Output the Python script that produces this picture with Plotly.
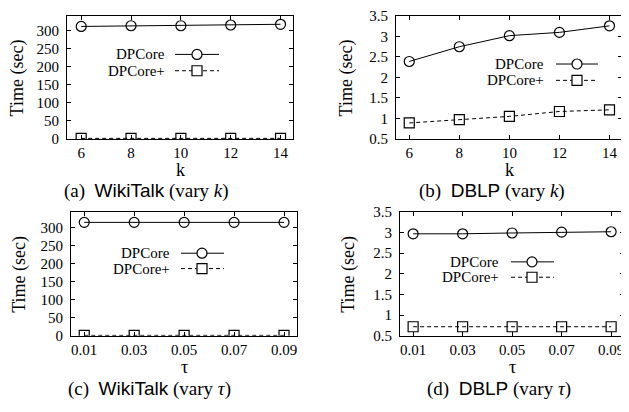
import plotly.graph_objects as go

# ---------------- data ----------------
k_vals = [6, 8, 10, 12, 14]
tau_vals = [0.01, 0.03, 0.05, 0.07, 0.09]
tau_labels = ["0.01", "0.03", "0.05", "0.07", "0.09"]

wiki_k_dpcore = [312, 314, 314, 316, 318]
wiki_k_dpcoreplus = [1.5, 1.5, 1.5, 1.5, 1.5]
dblp_k_dpcore = [2.39, 2.75, 3.02, 3.10, 3.26]
dblp_k_dpcoreplus = [0.89, 0.97, 1.05, 1.17, 1.21]
wiki_tau_dpcore = [315, 315, 315, 315, 315]
wiki_tau_dpcoreplus = [1.2, 1.2, 1.2, 1.2, 1.2]
dblp_tau_dpcore = [2.97, 2.97, 2.99, 3.01, 3.02]
dblp_tau_dpcoreplus = [0.72, 0.72, 0.72, 0.72, 0.72]

wiki_yticks = [0, 50, 100, 150, 200, 250, 300]
dblp_yticks = [0.5, 1, 1.5, 2, 2.5, 3, 3.5]
dblp_yticklabels = ["0.5", "1", "1.5", "2", "2.5", "3", "3.5"]

series_names = ["DPCore", "DPCore+"]
captions = [
    '(a)  <span style="font-family:Liberation Sans">WikiTalk</span> (vary <i>k</i>)',
    '(b)  <span style="font-family:Liberation Sans">DBLP</span> (vary <i>k</i>)',
    '(c)  <span style="font-family:Liberation Sans">WikiTalk</span> (vary <i>τ</i>)',
    '(d)  <span style="font-family:Liberation Sans">DBLP</span> (vary <i>τ</i>)',
]

# ---------------- layout geometry (page pixels) ----------------
W, H = 629, 412
OFF = 8                      # default body margin of the html page
FW, FH = W - OFF, H - OFF    # figure size so that it fits the window
SERIF = "Liberation Serif"

panels = [
    dict(x=[67, 293], y=[8, 136], xs=k_vals, y1=wiki_k_dpcore, y2=wiki_k_dpcoreplus,
         xr=[5.43, 14.5], yr=[0, 341], yt=wiki_yticks, ytl=[str(v) for v in wiki_yticks],
         xt=k_vals, xtl=[str(v) for v in k_vals], xtitle="k", xtitle_y=168,
         leg=dict(tx=166, y1=48, y2=65, lx0=175, lx1=219, mx=197),
         ytitle_x=17, cap=(146, 190)),
    dict(x=[396, 622], y=[8, 136], xs=k_vals, y1=dblp_k_dpcore, y2=dblp_k_dpcoreplus,
         xr=[5.47, 14.5], yr=[0.5, 3.5], yt=dblp_yticks, ytl=dblp_yticklabels,
         xt=k_vals, xtl=[str(v) for v in k_vals], xtitle="k", xtitle_y=168,
         leg=dict(tx=545, y1=58, y2=75, lx0=556, lx1=598, mx=577),
         ytitle_x=346, cap=(492, 190)),
    dict(x=[71, 297], y=[212, 341], xs=tau_vals, y1=wiki_tau_dpcore, y2=wiki_tau_dpcoreplus,
         xr=[0.0047, 0.0952], yr=[0, 344], yt=wiki_yticks, ytl=[str(v) for v in wiki_yticks],
         xt=tau_vals, xtl=tau_labels, xtitle="τ", xtitle_y=373,
         leg=dict(tx=171, y1=255, y2=271, lx0=181, lx1=224, mx=202),
         ytitle_x=20, cap=(149, 396)),
    dict(x=[400, 624], y=[212, 341], xs=tau_vals, y1=dblp_tau_dpcore, y2=dblp_tau_dpcoreplus,
         xr=[0.0047, 0.0952], yr=[0.5, 3.5], yt=dblp_yticks, ytl=dblp_yticklabels,
         xt=tau_vals, xtl=tau_labels, xtitle="τ", xtitle_y=373,
         leg=dict(tx=500, y1=264, y2=280, lx0=511, lx1=554, mx=532),
         ytitle_x=349, cap=(499, 396)),
]

fig = go.Figure()
shapes = []
annotations = []


def px(xp):
    return (xp - OFF) / FW


def py(yp):
    return 1 - (yp - OFF) / FH


def text_ann(x, y, text, size, xanchor="center", angle=0):
    return dict(x=px(x), y=py(y), xref="paper", yref="paper", text=text, showarrow=False,
                xanchor=xanchor, yanchor="middle", textangle=angle, borderpad=0,
                font=dict(family=SERIF, size=size, color="black"))


for i, p in enumerate(panels):
    n = "" if i == 0 else str(i + 1)
    xref, yref = "x" + n, "y" + n
    fig.add_trace(go.Scatter(
        x=p["xs"], y=p["y1"], mode="lines+markers", name=series_names[0],
        xaxis=xref, yaxis=yref, showlegend=False,
        line=dict(color="black", width=1),
        marker=dict(symbol="circle-open", size=10, color="black", line=dict(width=1.2)),
    ))
    fig.add_trace(go.Scatter(
        x=p["xs"], y=p["y2"], mode="lines+markers", name=series_names[1],
        xaxis=xref, yaxis=yref, showlegend=False,
        line=dict(color="black", width=1, dash="4px,3px"),
        marker=dict(symbol="square-open", size=10, color="black", line=dict(width=1.2)),
    ))
    axcommon = dict(showline=True, linecolor="black", linewidth=1, mirror="ticks",
                    ticks="inside", ticklen=4, tickcolor="black", showgrid=False,
                    zeroline=False, tickfont=dict(family=SERIF, size=15, color="black"))
    fig.update_layout(**{
        "xaxis" + n: dict(domain=[px(p["x"][0]), min(1, px(p["x"][1]))], range=p["xr"],
                          anchor=yref, tickvals=p["xt"], ticktext=p["xtl"], **axcommon),
        "yaxis" + n: dict(domain=[py(p["y"][1]), min(1, py(p["y"][0]))], range=p["yr"],
                          anchor=xref, tickvals=p["yt"], ticktext=p["ytl"],
                          ticklabelstandoff=4, **axcommon),
    })
    annotations.append(text_ann((p["x"][0] + p["x"][1]) / 2, p["xtitle_y"], p["xtitle"], 18))
    annotations.append(text_ann(p["ytitle_x"], (p["y"][0] + p["y"][1]) / 2 + 1,
                                "Time (sec)", 18, angle=-90))
    annotations.append(text_ann(p["cap"][0], p["cap"][1], captions[i], 19))
    L = p["leg"]
    for yy, nm, sym, dash in [(L["y1"], series_names[0], "circle", "solid"),
                              (L["y2"], series_names[1], "rect", "4px,3px")]:
        annotations.append(text_ann(L["tx"], yy, nm, 15, xanchor="right"))
        shapes.append(dict(type="line", xref="paper", yref="paper",
                           x0=px(L["lx0"]), x1=px(L["lx1"]), y0=py(yy), y1=py(yy),
                           line=dict(color="black", width=1, dash=dash)))
        shapes.append(dict(type=sym, xref="paper", yref="paper",
                           xsizemode="pixel", ysizemode="pixel",
                           xanchor=px(L["mx"]), yanchor=py(yy),
                           x0=-5, x1=5, y0=-5, y1=5,
                           fillcolor="white", line=dict(color="black", width=1.2)))

fig.update_layout(width=FW, height=FH, margin=dict(l=0, r=0, t=0, b=0),
                  paper_bgcolor="white", plot_bgcolor="white",
                  shapes=shapes, annotations=annotations, showlegend=False)

fig.write_html("out.html")
